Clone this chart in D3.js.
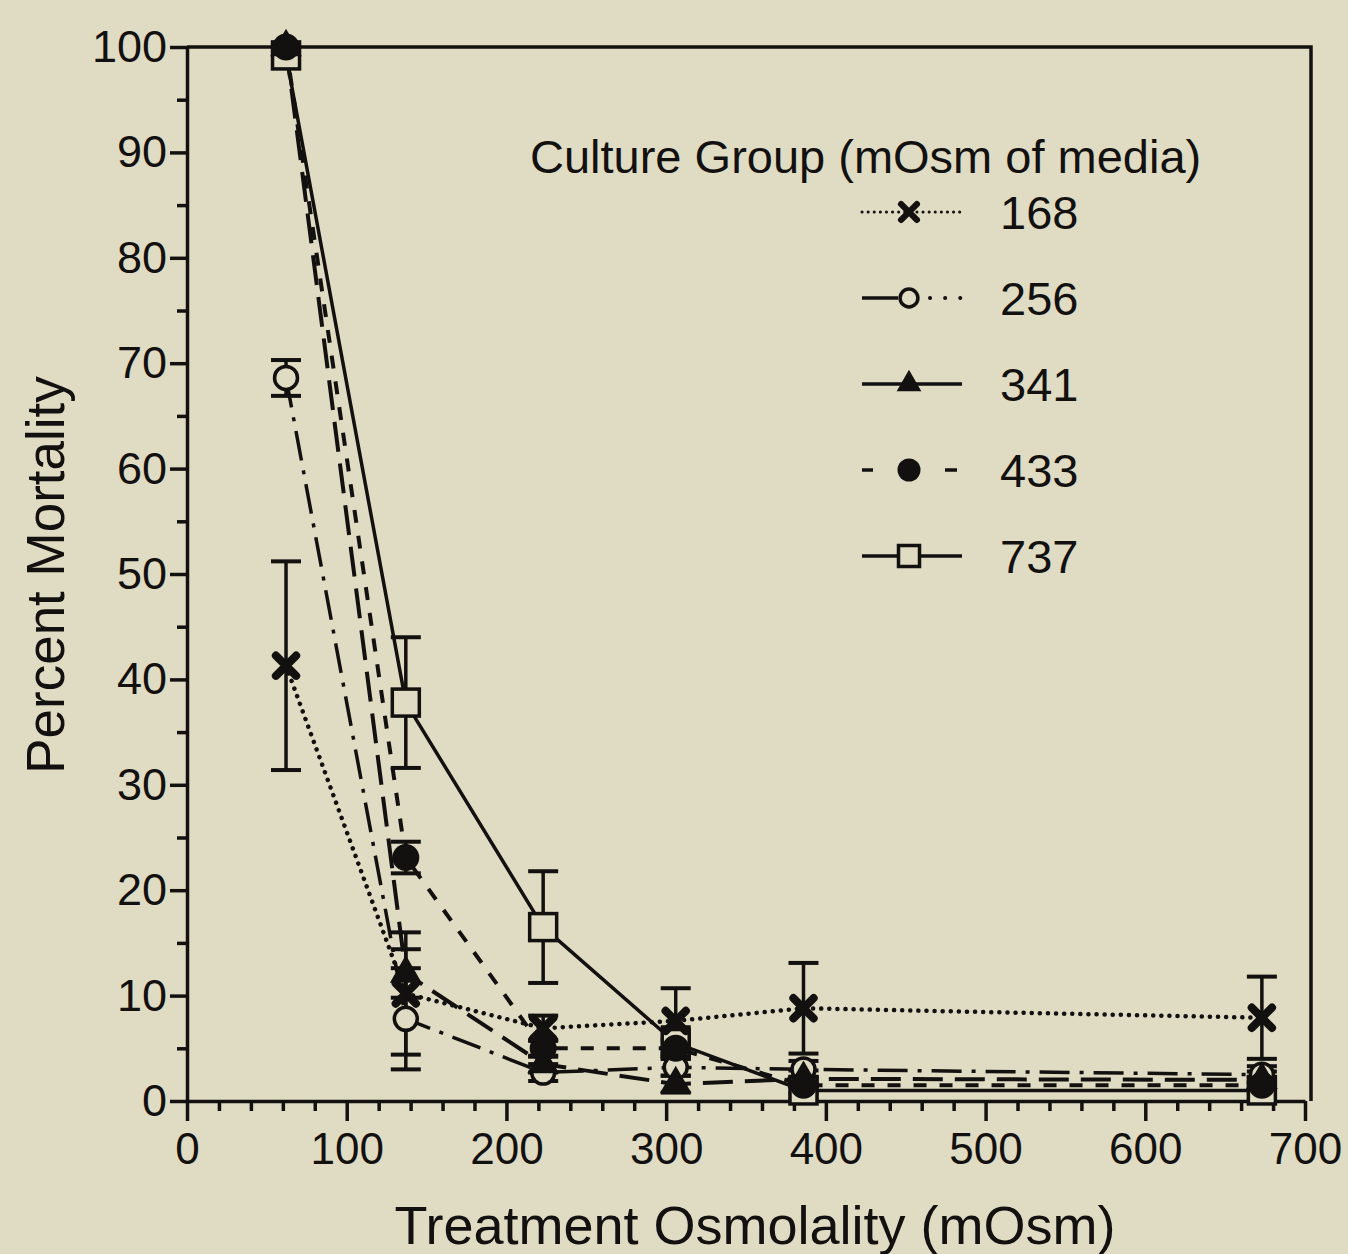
<!DOCTYPE html>
<html>
<head>
<meta charset="utf-8">
<script src="https://cdn.jsdelivr.net/npm/d3@7"></script>
<style>
  html, body { margin: 0; padding: 0; background: #e0dbc3; }
  svg { display: block; }
  text { font-family: "Liberation Sans", Arial, Helvetica, sans-serif; fill: #121110; }
</style>
</head>
<body>
<div id="chart"></div>
<script>
/* global d3 */

// treatment osmolality (mOsm) for every point
var osmolality = [62, 137, 223, 306, 386, 673];

// culture groups (mOsm of media)
var groups = ["168", "256", "341", "433", "737"];

// percent mortality, one array per culture group
var mort168 = [41.3, 10.2, 6.9, 7.6, 8.8, 7.9];
var mort256 = [68.6, 7.8, 2.7, 3.2, 3.0, 2.5];
var mort341 = [100, 12.1, 3.5, 1.6, 2.1, 2.0];
var mort433 = [100, 23.1, 5.0, 5.0, 1.5, 1.5];
var mort737 = [99.2, 37.8, 16.5, 5.5, 1.0, 1.0];

// error bars (+/-)
var err168 = [9.9, 5.8, 1.2, 3.1, 4.3, 3.9];
var err256 = [1.7, 4.8, 0.8, 0.8, 0.8, 0.8];
var err341 = [0, 2.3, 0.8, 0.8, 0.8, 0.8];
var err433 = [0, 1.5, 0.8, 0.8, 0.8, 0.8];
var err737 = [0, 6.2, 5.3, 1.5, 0.8, 0.8];

var xTicks = [0, 100, 200, 300, 400, 500, 600, 700];
var yTicks = [0, 10, 20, 30, 40, 50, 60, 70, 80, 90, 100];

var ink = "#121110";
var paper = "#e0dbc3";

var series = [
    {name: groups[0], values: mort168, err: err168, marker: "cross", dash: "0.1,8", width: 4.5},
    {name: groups[1], values: mort256, err: err256, marker: "circleOpen", dash: "30,10,4,10", width: 3.5},
    {name: groups[2], values: mort341, err: err341, marker: "triangle", dash: "30,12", width: 4},
    {name: groups[3], values: mort433, err: err433, marker: "circle", dash: "13,13", width: 4},
    {name: groups[4], values: mort737, err: err737, marker: "squareOpen", dash: null, width: 3.5}
];

// open symbols go under the filled ones
var markerOrder = ["squareOpen", "circleOpen", "circle", "triangle", "cross"];

var width = 1348;
var height = 1254;

var x = d3.scaleLinear().domain([0, 700]).range([187, 1305]);
var y = d3.scaleLinear().domain([0, 100]).range([1101, 47]);

var svg = d3.select("#chart")
    .append("svg")
    .attr("width", width)
    .attr("height", height);

svg.append("rect")
    .attr("width", width)
    .attr("height", height)
    .attr("fill", paper);

// axes
var yAxis = svg.append("g")
    .attr("transform", "translate(" + x(0) + ",0)")
    .call(d3.axisLeft(y).tickValues(yTicks).tickSize(17).tickSizeOuter(0).tickPadding(3));

svg.append("g")
    .attr("transform", "translate(" + x(0) + ",0)")
    .call(d3.axisLeft(y).tickValues(d3.range(5, 100, 10)).tickSize(10).tickFormat(""))
    .select(".domain").remove();

var xAxis = svg.append("g")
    .attr("transform", "translate(0," + y(0) + ")")
    .call(d3.axisBottom(x).tickValues(xTicks).tickSize(20).tickSizeOuter(0).tickPadding(12));

svg.append("g")
    .attr("transform", "translate(0," + y(0) + ")")
    .call(d3.axisBottom(x).tickValues(d3.range(20, 700, 20).filter(function (d) { return d % 100 !== 0; }))
        .tickSize(10).tickFormat(""))
    .select(".domain").remove();

svg.selectAll(".domain, .tick line")
    .attr("stroke", ink)
    .attr("stroke-width", 3.5);

yAxis.selectAll("text")
    .attr("font-size", 45)
    .attr("fill", ink)
    .style("font-family", "'Liberation Sans', Arial, sans-serif");

xAxis.selectAll("text")
    .attr("font-size", 44)
    .attr("fill", ink)
    .style("font-family", "'Liberation Sans', Arial, sans-serif");

// frame on top and right
svg.append("path")
    .attr("d", "M" + x(0) + "," + y(100) + "H" + (x(700) + 6) + "V" + y(0))
    .attr("fill", "none")
    .attr("stroke", ink)
    .attr("stroke-width", 3.5);

svg.append("text")
    .attr("x", 755)
    .attr("y", 1244)
    .attr("text-anchor", "middle")
    .attr("font-size", 54)
    .text("Treatment Osmolality (mOsm)");

svg.append("text")
    .attr("transform", "translate(64,575) rotate(-90)")
    .attr("text-anchor", "middle")
    .attr("font-size", 53)
    .text("Percent Mortality");

// lines
var line = d3.line()
    .x(function (d) { return x(d.x); })
    .y(function (d) { return y(d.y); });

function points(s) {
    return s.values.map(function (v, i) {
        return {x: osmolality[i], y: v, e: s.err[i]};
    });
}

var plot = svg.append("g");

series.forEach(function (s) {
    plot.append("path")
        .datum(points(s))
        .attr("d", line)
        .attr("fill", "none")
        .attr("stroke", ink)
        .attr("stroke-width", s.width)
        .attr("stroke-linecap", s.marker === "cross" ? "round" : "butt")
        .attr("stroke-dasharray", s.dash);
});

// error bars
series.forEach(function (s) {
    var eb = plot.append("g")
        .selectAll("g")
        .data(points(s).filter(function (d) { return d.e > 0; }))
        .enter().append("g");

    eb.append("line")
        .attr("x1", function (d) { return x(d.x); })
        .attr("x2", function (d) { return x(d.x); })
        .attr("y1", function (d) { return y(d.y - d.e); })
        .attr("y2", function (d) { return y(d.y + d.e); })
        .attr("stroke", ink)
        .attr("stroke-width", 3.5);

    [-1, 1].forEach(function (sign) {
        eb.append("line")
            .attr("x1", function (d) { return x(d.x) - 15; })
            .attr("x2", function (d) { return x(d.x) + 15; })
            .attr("y1", function (d) { return y(d.y + sign * d.e); })
            .attr("y2", function (d) { return y(d.y + sign * d.e); })
            .attr("stroke", ink)
            .attr("stroke-width", 4);
    });
});

// markers
function drawMarker(g, type, size) {
    var h = size / 2;
    if (type === "cross") {
        g.append("path")
            .attr("d", "M" + (-h * 0.75) + "," + (-h * 0.75) + "L" + (h * 0.75) + "," + (h * 0.75) +
                "M" + (-h * 0.75) + "," + (h * 0.75) + "L" + (h * 0.75) + "," + (-h * 0.75))
            .attr("stroke", ink)
            .attr("stroke-width", size * 0.3)
            .attr("stroke-linecap", "round");
    } else if (type === "circleOpen") {
        g.append("circle")
            .attr("r", h * 0.85)
            .attr("fill", paper)
            .attr("stroke", ink)
            .attr("stroke-width", 3.5);
    } else if (type === "circle") {
        g.append("circle")
            .attr("r", h)
            .attr("fill", ink);
    } else if (type === "triangle") {
        g.append("path")
            .attr("d", d3.symbol(d3.symbolTriangle, size * size * 0.6)())
            .attr("fill", ink);
    } else if (type === "squareOpen") {
        g.append("rect")
            .attr("x", -h)
            .attr("y", -h)
            .attr("width", size)
            .attr("height", size)
            .attr("fill", paper)
            .attr("stroke", ink)
            .attr("stroke-width", 3.5);
    }
}

series.slice()
    .sort(function (a, b) { return markerOrder.indexOf(a.marker) - markerOrder.indexOf(b.marker); })
    .forEach(function (s) {
        plot.append("g")
            .selectAll("g")
            .data(points(s))
            .enter().append("g")
            .attr("transform", function (d) { return "translate(" + x(d.x) + "," + y(d.y) + ")"; })
            .each(function () { drawMarker(d3.select(this), s.marker, 27); });
    });

// legend
var legend = svg.append("g");

legend.append("text")
    .attr("x", 530)
    .attr("y", 173)
    .attr("font-size", 47)
    .text("Culture Group (mOsm of media)");

var rowY = d3.scalePoint().domain(groups).range([212, 556]);

series.forEach(function (s) {
    var row = legend.append("g")
        .attr("transform", "translate(0," + rowY(s.name) + ")");

    var lx1 = 862, lx2 = 962;
    if (s.marker === "circleOpen") {
        row.append("line").attr("x1", lx1).attr("x2", 898).attr("stroke", ink).attr("stroke-width", 3.5);
        row.append("line").attr("x1", 930).attr("x2", lx2)
            .attr("stroke", ink).attr("stroke-width", 4)
            .attr("stroke-linecap", "round").attr("stroke-dasharray", "0.1,15");
    } else if (s.marker === "circle") {
        row.append("line").attr("x1", lx1).attr("x2", 873).attr("stroke", ink).attr("stroke-width", 3.5);
        row.append("line").attr("x1", 945).attr("x2", 957).attr("stroke", ink).attr("stroke-width", 3.5);
    } else {
        row.append("line")
            .attr("x1", lx1).attr("x2", lx2)
            .attr("stroke", ink)
            .attr("stroke-width", s.marker === "cross" ? 3 : 3.5)
            .attr("stroke-linecap", s.marker === "cross" ? "round" : "butt")
            .attr("stroke-dasharray", s.marker === "cross" ? "0.1,6" : null);
    }

    var m = row.append("g").attr("transform", "translate(909,0)");
    drawMarker(m, s.marker, s.marker === "circle" ? 23 : 21);

    row.append("text")
        .attr("x", 1000)
        .attr("y", 17)
        .attr("font-size", 47)
        .text(s.name);
});
</script>
</body>
</html>
